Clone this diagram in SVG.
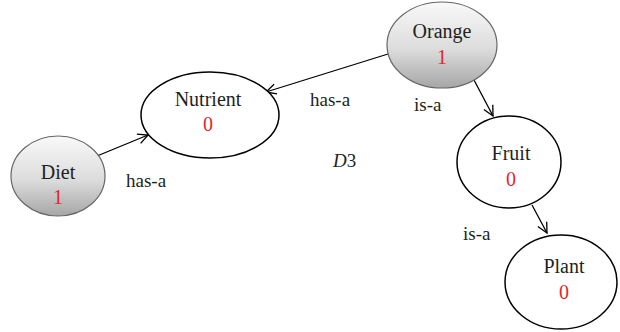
<svg xmlns="http://www.w3.org/2000/svg" width="620" height="332" viewBox="0 0 620 332">
<defs>
<linearGradient id="gray" x1="0" y1="0" x2="0" y2="1">
<stop offset="0" stop-color="#f9f9f9"/>
<stop offset="0.55" stop-color="#dcdcdc"/>
<stop offset="1" stop-color="#a6a6a6"/>
</linearGradient>
<marker id="arr" viewBox="0 0 12 12" refX="11" refY="6" markerWidth="12" markerHeight="12" markerUnits="userSpaceOnUse" orient="auto">
<path d="M1,1 L11,6 L1,11" fill="none" stroke="#000" stroke-width="1.3"/>
</marker>
<style>
.node{fill:#fff;stroke:#000;stroke-width:1.5}
.gnode{fill:url(#gray);stroke:#666;stroke-width:1.2}
text{font-family:"Liberation Serif","Times New Roman","DejaVu Serif",serif}
.lbl{font-size:20px;fill:#231f20;text-anchor:middle}
.val{font-size:20px;fill:#e8262d;text-anchor:middle}
.edge{stroke:#000;stroke-width:1.3;fill:none;marker-end:url(#arr)}
.el{font-size:19px;fill:#231f20}
</style>
</defs>
<g id="connectors">
<line class="edge" x1="388" y1="54" x2="266" y2="92"/>
<line class="edge" x1="97" y1="156" x2="148" y2="135"/>
<line class="edge" x1="474" y1="80" x2="493" y2="116"/>
<line class="edge" x1="532" y1="205" x2="547" y2="233"/>
<text class="el" x="310" y="106">has-a</text>
<text class="el" x="414" y="111">is-a</text>
<text class="el" x="126" y="187">has-a</text>
<text class="el" x="463" y="240">is-a</text>
</g>
<g id="orange">
<ellipse class="gnode" cx="442" cy="45" rx="55" ry="43"/>
<text class="lbl" x="442" y="38">Orange</text>
<text class="val" x="442" y="64">1</text>
</g>
<g id="nutrient">
<ellipse class="node" cx="210" cy="115" rx="69" ry="43"/>
<text class="lbl" x="208" y="106">Nutrient</text>
<text class="val" x="208" y="131">0</text>
</g>
<g id="diet">
<ellipse class="gnode" cx="58" cy="176" rx="47" ry="40"/>
<text class="lbl" x="58" y="179">Diet</text>
<text class="val" x="58" y="204">1</text>
</g>
<g id="fruit">
<ellipse class="node" cx="509" cy="162" rx="52" ry="46"/>
<text class="lbl" x="511" y="160">Fruit</text>
<text class="val" x="511" y="186">0</text>
</g>
<g id="plant">
<ellipse class="node" cx="561" cy="282" rx="56" ry="47"/>
<text class="lbl" x="564" y="273">Plant</text>
<text class="val" x="564" y="299">0</text>
</g>
<text x="333" y="167" font-size="19" fill="#231f20"><tspan font-style="italic">D</tspan>3</text>
</svg>
